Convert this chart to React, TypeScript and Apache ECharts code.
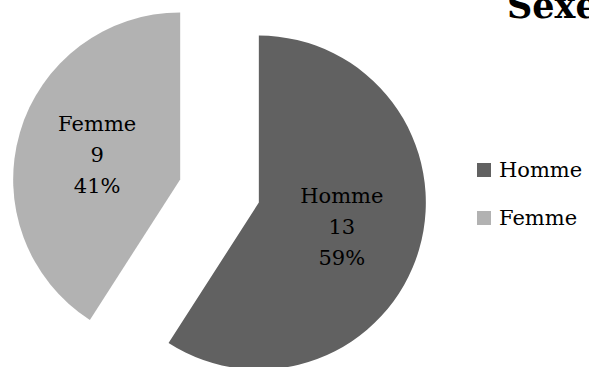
import React, { useEffect, useRef } from "react";
import * as echarts from "echarts";

const titleText = "Sexe";
const categories = ["Homme", "Femme"];
const counts = [13, 9];
const colors = ["#616161", "#b2b2b2"];

export default function App() {
  const ref = useRef<HTMLDivElement>(null);
  useEffect(() => {
    if (!ref.current) return;
    const chart = echarts.init(ref.current, undefined, { renderer: "svg" });
    const font = "DejaVu Serif";
    chart.setOption({
      animation: false,
      backgroundColor: "#ffffff",
      title: {
        text: titleText,
        left: 507,
        top: -12,
        padding: 0,
        textStyle: { fontFamily: font, fontWeight: "bold", fontSize: 35, color: "#000" },
      },
      legend: {
        orient: "vertical",
        left: 477,
        top: 159.5,
        padding: 0,
        itemWidth: 14,
        itemHeight: 14,
        itemGap: 27,
        icon: "rect",
        selectedMode: false,
        data: categories,
        textStyle: { fontFamily: font, fontSize: 21, lineHeight: 21, color: "#000", padding: [0, 0, 0, 3] },
      },
      series: [
        {
          type: "pie",
          center: [219.5, 191],
          radius: [0, 167],
          startAngle: 90,
          clockwise: true,
          selectedMode: "multiple",
          selectedOffset: 41,
          percentPrecision: 0,
          emphasis: { disabled: true },
          label: {
            position: "inner",
            formatter: "{b}\n{c}\n{d}%",
            fontFamily: font,
            fontSize: 21,
            lineHeight: 31,
            color: "#000",
            offset: [0, 3],
          },
          labelLine: { show: false },
          data: categories.map((c, i) => ({
            name: c,
            value: counts[i],
            selected: true,
            itemStyle: { color: colors[i] },
            select: { itemStyle: { color: colors[i] } },
          })),
        },
      ],
    });
    return () => chart.dispose();
  }, []);
  return (
    <div
      ref={ref}
      style={{ position: "fixed", left: 0, top: 0, width: 589, height: 367 }}
    />
  );
}
